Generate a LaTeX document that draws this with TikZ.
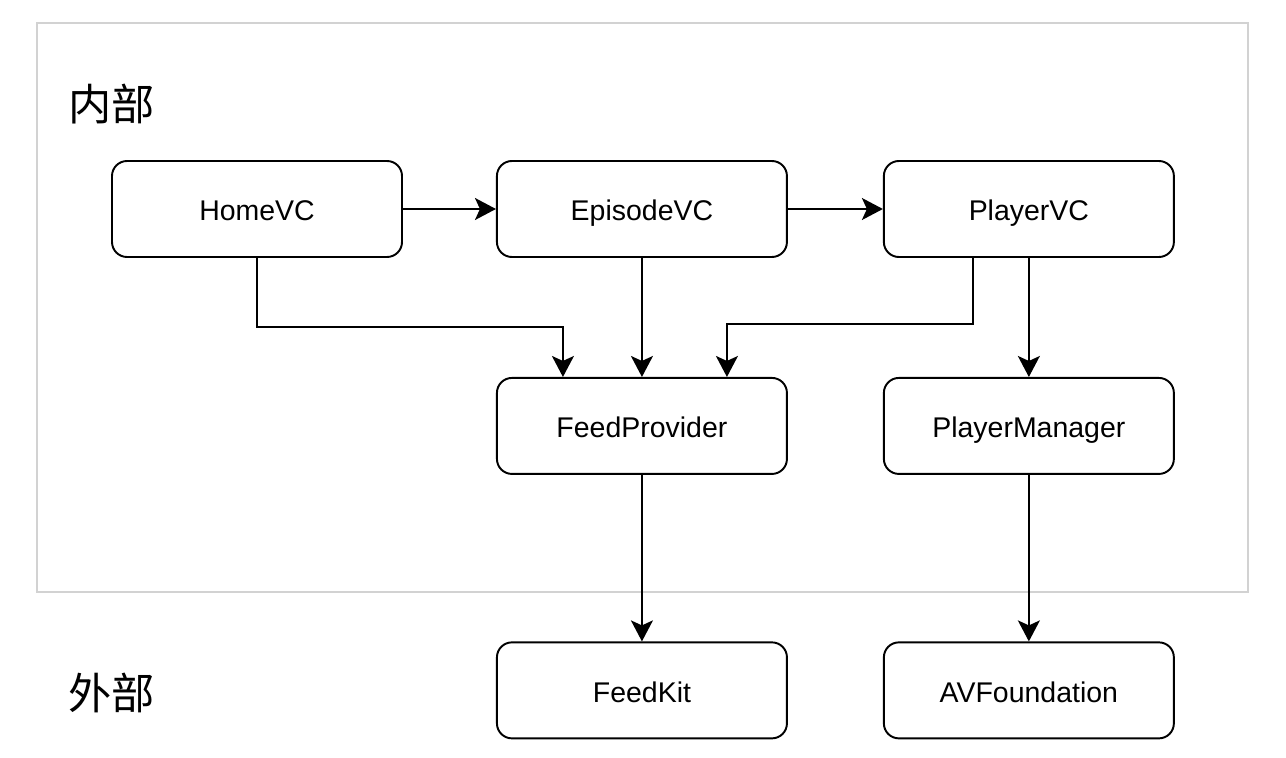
\documentclass[tikz,border=0pt]{standalone}
\usepackage{fontspec}
\setmainfont{Liberation Sans}
\newfontfamily\cjkfont{Noto Sans CJK SC}
\usetikzlibrary{positioning, arrows.meta}

\tikzset{
  module/.style={draw=black, line width=1.1pt, rounded corners=0.3cm,
    minimum width=5.8cm, minimum height=1.92cm, inner sep=0pt,
    text height=13.6pt, text depth=0pt,
    font=\fontsize{16.2}{19}\selectfont},
  dep/.style={-{Stealth[length=0.42cm, width=0.44cm, inset=0.1cm]},
    line width=1.1pt},
  layer/.style={font=\cjkfont\fontsize{24.6}{30}\selectfont, anchor=west,
    inner sep=0pt}
}

\begin{document}
\begin{tikzpicture}
        \useasboundingbox (0,0) rectangle (25.72,-15.16);
        \draw[draw=gray!35, line width=1.1pt] (0.74,-0.46) rectangle (24.96,-11.84);

        \node[layer] (inner) at (1.36,-2.09) {内部};
        \node[layer] (outer) at (1.36,-13.85) {外部};

        \node[module] (home) at (5.14,-4.18) {HomeVC};
        \node[module, right=1.86cm of home] (episode) {EpisodeVC};
        \node[module, right=1.9cm of episode] (player) {PlayerVC};

        \node[module, below=2.38cm of episode] (feed) {FeedProvider};
        \node[module, below=2.38cm of player] (manager) {PlayerManager};

        \node[module, below=3.33cm of feed] (feedkit) {FeedKit};
        \node[module, below=3.33cm of manager] (avf) {AVFoundation};

        \coordinate (feedA) at ([xshift=-1.58cm]feed.north);
        \coordinate (feedC) at ([xshift=1.7cm]feed.north);

        \path (home) edge[dep] (episode)
              (episode) edge[dep] (player);

        \draw[dep] (home.south) |- ([yshift=1cm]feedA) -- (feedA);
        \draw[dep] (episode) -- (feed);
        \draw[dep] ([xshift=-1.12cm]player.south) |- ([yshift=1.06cm]feedC) -- (feedC);
        \draw[dep] (player) -- (manager);

        \draw[dep] (feed) -- (feedkit);
        \draw[dep] (manager) -- (avf);
\end{tikzpicture}
\end{document}
